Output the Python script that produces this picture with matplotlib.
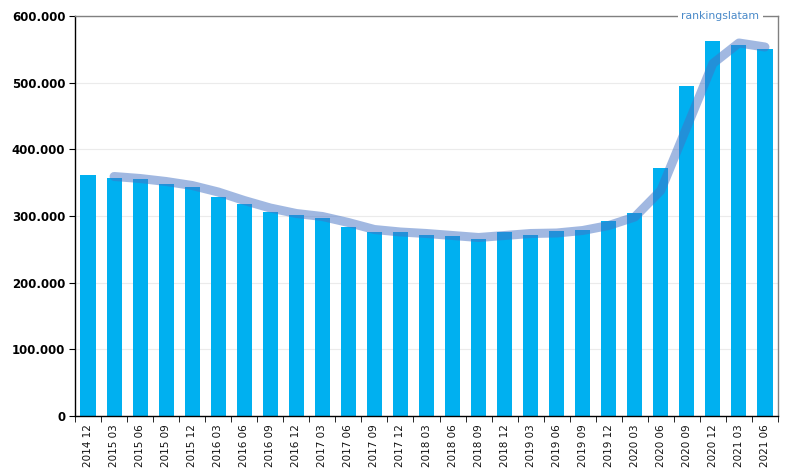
import numpy as np
import matplotlib
matplotlib.use("Agg")
import matplotlib.pyplot as plt
from matplotlib.ticker import FuncFormatter, FixedLocator

periods = [
    "2014 12", "2015 03", "2015 06", "2015 09", "2015 12", "2016 03", "2016 06",
    "2016 09", "2016 12", "2017 03", "2017 06", "2017 09", "2017 12", "2018 03",
    "2018 06", "2018 09", "2018 12", "2019 03", "2019 06", "2019 09", "2019 12",
    "2020 03", "2020 06", "2020 09", "2020 12", "2021 03", "2021 06",
]
values = [
    361500, 357000, 355500, 348000, 343500, 328500, 318000,
    306000, 301500, 297000, 283500, 276000, 276000, 271500,
    270000, 265500, 276000, 271500, 277500, 279000, 292500,
    304500, 372000, 495000, 562500, 556500, 550500,
]

BAR_COLOR = "#00B0F0"
TREND_COLOR = "#4472C4"

vals = np.array(values, dtype=float)
x = np.arange(len(periods))
# 2-period moving average trendline
trend = (vals[1:] + vals[:-1]) / 2
trend_x = x[1:]

fig = plt.figure(figsize=(7.88, 4.74), dpi=100)
ax = fig.add_axes([75 / 788, 1 - 416 / 474, 703 / 788, 400 / 474])

ax.bar(x, vals, width=0.58, color=BAR_COLOR, zorder=2)
ax.plot(trend_x, trend, color=TREND_COLOR, alpha=0.5, linewidth=6.5,
        solid_capstyle="round", solid_joinstyle="round", zorder=3)

ax.set_xlim(-0.5, len(periods) - 0.5)
ax.set_ylim(0, 600000)
ax.set_yticks(np.arange(0, 600001, 100000))
ax.yaxis.set_major_formatter(FuncFormatter(lambda v, p: f"{v:,.0f}".replace(",", ".")))
ax.grid(axis="y", color="#ebebeb", linewidth=0.8, zorder=0)

ax.set_xticks(x)
ax.set_xticklabels(periods, rotation=90, fontsize=7.5, color="#111111")
ax.tick_params(axis="x", which="major", length=0, pad=6)
ax.xaxis.set_minor_locator(FixedLocator(np.arange(-0.5, len(periods), 1)))
ax.tick_params(axis="x", which="minor", length=4, color="black")
ax.tick_params(axis="y", length=4, color="black", pad=3)
for lbl in ax.get_yticklabels():
    lbl.set_fontweight("bold")
    lbl.set_fontsize(8.5)

ax.spines["left"].set_color("black")
ax.spines["bottom"].set_color("black")
ax.spines["top"].set_color("#808080")
ax.spines["right"].set_color("#808080")
for s in ax.spines.values():
    s.set_linewidth(1.0)

ax.text(0.918, 1.0, "rankingslatam", transform=ax.transAxes, ha="center", va="center",
        fontsize=7.8, color="#4a8ac9",
        bbox=dict(facecolor="white", edgecolor="none", pad=2.5), zorder=5, clip_on=False)

fig.savefig("out.png", dpi=100)
